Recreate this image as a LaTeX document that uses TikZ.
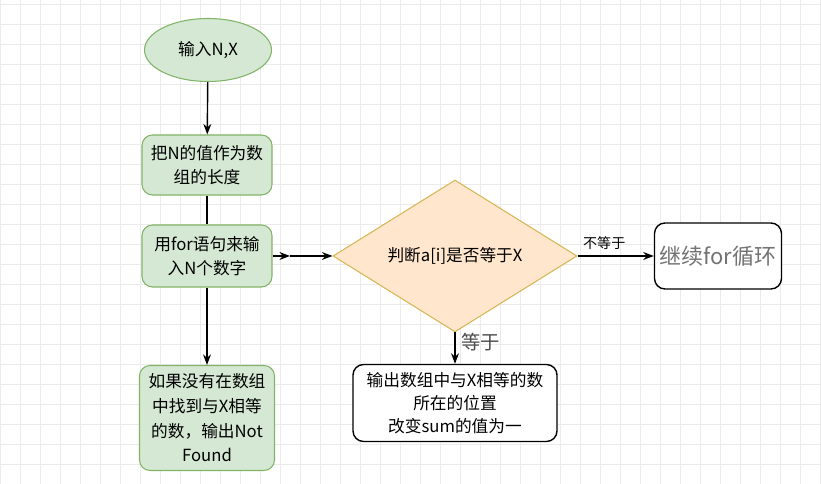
\documentclass[tikz,border=0pt]{standalone}
\usepackage{fontspec}
\setmainfont{Noto Sans CJK SC}
\usetikzlibrary{positioning, shapes.geometric, arrows.meta}
\definecolor{gfill}{HTML}{D5E8D4}
\definecolor{gline}{HTML}{82B366}
\definecolor{ofill}{HTML}{FFE6CC}
\definecolor{oline}{HTML}{D6B656}
\tikzset{
    greenbox/.style={draw=gline, semithick, fill=gfill, rounded corners=6pt, align=center, font=\fontsize{9.5}{14}\selectfont, inner sep=1pt},
    whitebox/.style={draw=black, thick, fill=white, rounded corners=6pt, align=center, font=\fontsize{9.5}{13}\selectfont, inner sep=1pt},
    flow/.style={-{Stealth[length=6pt]}, thick}
}
\begin{document}
\begin{tikzpicture}
    \useasboundingbox (0,0) rectangle (16.42,9.68);
    \fill[white] (0,0) rectangle (16.42,9.68);
    \draw[black!8, step=0.4] (0,0) grid (16.42,9.68);
    % nodes
    \node[ellipse, draw=gline, semithick, fill=gfill, minimum width=2.54cm, minimum height=1.26cm, font=\fontsize{9.5}{12}\selectfont] (start) at (4.16,8.68) {输入N,X};
    \node[greenbox, minimum width=2.6cm, minimum height=1.2cm] (len) at (4.14,6.38) {把N的值作为数\\组的长度};
    \node[greenbox, minimum width=2.6cm, minimum height=1.24cm] (input) at (4.14,4.56) {用for语句来输\\入N个数字};
    \node[greenbox, minimum width=2.7cm, minimum height=2.1cm] (notfound) at (4.14,1.32) {如果没有在数组\\中找到与X相等\\的数，输出Not\\Found};
    \node[diamond, draw=oline, semithick, fill=ofill, aspect=1, minimum width=4.88cm, minimum height=2.26cm, inner sep=0pt, font=\fontsize{9.5}{12}\selectfont] (check) at (9.1,4.56) {判断a[i]是否等于X};
    \node[whitebox, minimum width=2.54cm, minimum height=1.32cm, text=black!55, font=\fontsize{12.5}{14}\selectfont] (loop) at (14.36,4.56) {继续for循环};
    \node[whitebox, minimum width=4.08cm, minimum height=1.54cm] (found) at (9.1,1.62) {输出数组中与X相等的数\\所在的位置\\改变sum的值为一};
    \coordinate (mid) at (5.8,4.56);
    % connectors
    \draw[flow] (start) -- (len);
    \draw[thick] (len) -- (input);
    \draw[flow] (input) -- (notfound);
    \draw[flow] (input.east) -- (mid);
    \draw[flow] (mid) -- (check.west);
    \draw[flow] (check.east) -- node[above, font=\fontsize{8}{10}\selectfont, pos=0.35] {不等于} (loop.west);
    \draw[flow] (check.south) -- node[right, text=black!70, font=\fontsize{11}{12}\selectfont, pos=0.3] {等于} (found.north);
\end{tikzpicture}
\end{document}
